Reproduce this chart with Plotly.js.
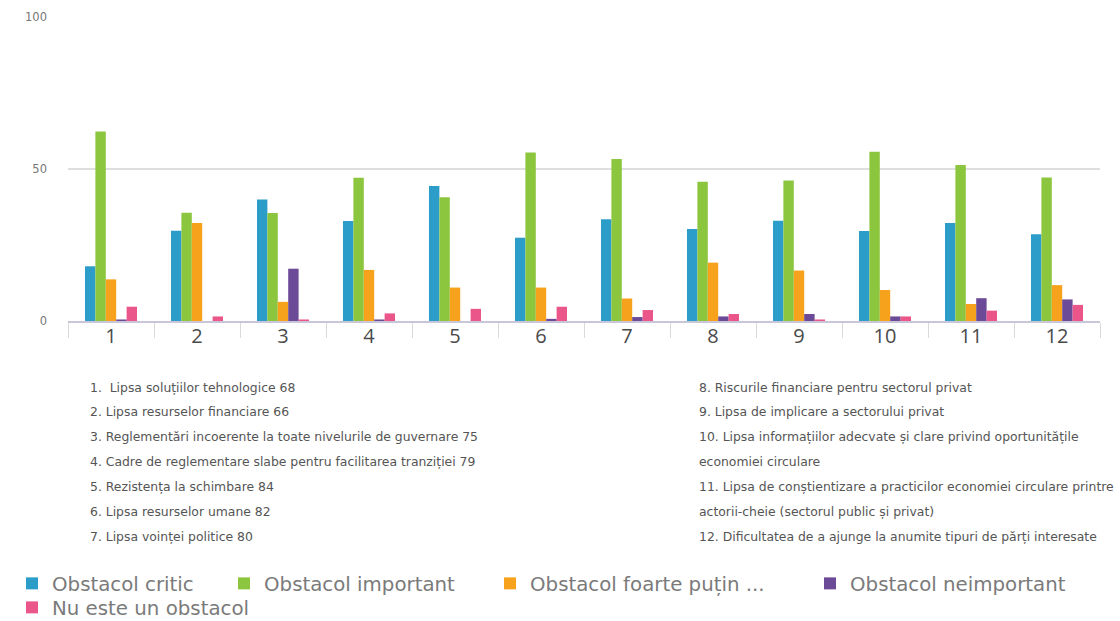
<!DOCTYPE html>
<html>
<head>
<meta charset="utf-8">
<script src="https://cdn.plot.ly/plotly-3.0.1.min.js"></script>
<style>html,body{margin:0;padding:0;background:#fff;}#chart{width:1120px;height:621px;}</style>
</head>
<body>
<div id="chart"></div>
<script>
// Categories (x axis)
const categories = ['1','2','3','4','5','6','7','8','9','10','11','12'];

// Series names and values (percent)
const seriesNames = ['Obstacol critic','Obstacol important','Obstacol foarte puțin ...','Obstacol neimportant','Nu este un obstacol'];
const seriesColors = ['#2c9dc8','#8cc63f','#f7a21d','#6b4a97','#eb568a'];
const seriesLegend = ['legend','legend2','legend3','legend4','legend5'];
const obstacolCritic      = [18, 29.7, 40, 32.9, 44.4, 27.4, 33.5, 30.3, 33, 29.6, 32.2, 28.5];
const obstacolImportant   = [62.3, 35.6, 35.5, 47.1, 40.7, 55.4, 53.3, 45.8, 46.2, 55.7, 51.3, 47.2];
const obstacolFoartePutin = [13.7, 32.2, 6.3, 16.8, 11, 11, 7.4, 19.2, 16.6, 10.2, 5.6, 11.8];
const obstacolNeimportant = [0.5, 0, 17.2, 0.5, 0, 0.7, 1.3, 1.5, 2.3, 1.5, 7.5, 7.1];
const nuEsteObstacol      = [4.7, 1.5, 0.5, 2.5, 4, 4.7, 3.6, 2.3, 0.5, 1.5, 3.4, 5.3];
const seriesValues = [obstacolCritic, obstacolImportant, obstacolFoartePutin, obstacolNeimportant, nuEsteObstacol];

// Y tick values
const yTicks = [0, 50, 100];

// Notes below the chart
const leftNotes = [
  '1.  Lipsa soluțiilor tehnologice 68',
  '2. Lipsa resurselor financiare 66',
  '3. Reglementări incoerente la toate nivelurile de guvernare 75',
  '4. Cadre de reglementare slabe pentru facilitarea tranziției 79',
  '5. Rezistența la schimbare 84',
  '6. Lipsa resurselor umane 82',
  '7. Lipsa voinței politice 80'
];
const rightNotes = [
  '8. Riscurile financiare pentru sectorul privat',
  '9. Lipsa de implicare a sectorului privat',
  '10. Lipsa informațiilor adecvate și clare privind oportunitățile',
  'economiei circulare',
  '11. Lipsa de conștientizare a practicilor economiei circulare printre',
  'actorii-cheie (sectorul public și privat)',
  '12. Dificultatea de a ajunge la anumite tipuri de părți interesate'
];

const traces = seriesNames.map((name, i) => ({
  type: 'bar',
  name: name,
  legend: seriesLegend[i],
  x: categories,
  y: seriesValues[i],
  marker: {color: seriesColors[i]},
  hoverinfo: 'x+y+name'
}));

const noteFont = {family: 'DejaVu Sans, sans-serif', size: 12.4, color: '#555'};
const annotations = [];
leftNotes.forEach((t, i) => annotations.push({
  text: t, xref: 'paper', yref: 'paper', x: (88 - 68) / 1032, y: (321 - (387 + i * 24.9)) / 304,
  xanchor: 'left', yanchor: 'middle', showarrow: false, font: noteFont
}));
rightNotes.forEach((t, i) => annotations.push({
  text: t, xref: 'paper', yref: 'paper', x: (697 - 68) / 1032, y: (321 - (387 + i * 24.9)) / 304,
  xanchor: 'left', yanchor: 'middle', showarrow: false, font: noteFont
}));

const legendFont = {family: 'DejaVu Sans, sans-serif', size: 19.8, color: '#7a7a7a'};
// legend entry placement (pixels, container)
const legendX = [12, 224, 490, 810, 12];
const legendTop = [564, 564, 564, 564, 588];

const layout = {
  width: 1120, height: 621,
  margin: {l: 68, r: 20, t: 17, b: 300},
  paper_bgcolor: '#fff', plot_bgcolor: '#fff',
  barmode: 'group', bargap: 0.395, bargroupgap: 0,
  font: {family: 'Open Sans, sans-serif', color: '#666'},
  xaxis: {
    type: 'category', categoryarray: categories,
    showline: true, linecolor: '#c9c6da', linewidth: 2,
    ticks: 'outside', tickson: 'boundaries', ticklen: 15, tickcolor: '#d9d9d9', tickwidth: 1,
    ticklabelstandoff: -4,
    tickfont: {family: 'Open Sans, sans-serif', size: 20, color: '#4a4a4a'},
    showgrid: false, zeroline: false, fixedrange: true
  },
  yaxis: {
    range: [0, 100], tickvals: yTicks, ticktext: yTicks.map(String),
    showgrid: true, gridcolor: '#dedede', gridwidth: 2,
    zeroline: false, showline: false, ticks: '',
    ticklabelstandoff: 20,
    tickfont: {family: 'DejaVu Sans, sans-serif', size: 11.5, color: '#777'},
    fixedrange: true
  },
  annotations: annotations,
  showlegend: true
};
seriesLegend.forEach((key, i) => {
  layout[key] = {
    orientation: 'h', xref: 'container', yref: 'container',
    x: legendX[i] / 1120, y: (621 - legendTop[i]) / 621, xanchor: 'left', yanchor: 'top',
    font: legendFont, bgcolor: 'rgba(0,0,0,0)',
    itemclick: false, itemdoubleclick: false
  };
});

Plotly.newPlot('chart', traces, layout, {displayModeBar: false, staticPlot: true});
</script>
</body>
</html>
